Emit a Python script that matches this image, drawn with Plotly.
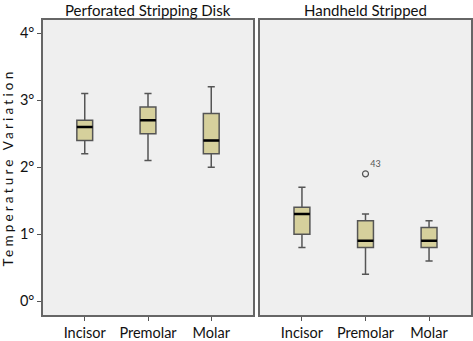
import plotly.graph_objects as go

categories = ["Incisor", "Premolar", "Molar"]
panels = ["Perforated Stripping Disk", "Handheld Stripped"]

# Box statistics
disk_min = [2.2, 2.1, 2.0]
disk_q1 = [2.4, 2.5, 2.2]
disk_med = [2.6, 2.7, 2.4]
disk_q3 = [2.7, 2.9, 2.8]
disk_max = [3.1, 3.1, 3.2]

hand_min = [0.8, 0.4, 0.6]
hand_q1 = [1.0, 0.8, 0.8]
hand_med = [1.3, 0.9, 0.9]
hand_q3 = [1.4, 1.2, 1.1]
hand_max = [1.7, 1.3, 1.2]

outlier_cat = ["Premolar"]
outlier_val = [1.9]
outlier_lbl = ["43"]

y_ticks = [0, 1, 2, 3, 4]
y_ticktext = [f"{v}°" for v in y_ticks]

FONT = "Lato"
BOX_FILL = "#D6D09C"
BOX_LINE = "#555555"
BOX_W = 0.25

xs = list(range(len(categories)))

fig = go.Figure()

def add_panel(mins, q1, med, q3, mx, xa, ya):
    fig.add_trace(go.Box(
        x=xs, q1=q1, median=med, q3=q3, lowerfence=mins, upperfence=mx,
        boxpoints=False, width=BOX_W, whiskerwidth=0.45,
        fillcolor=BOX_FILL, line=dict(color=BOX_LINE, width=1.5),
        xaxis=xa, yaxis=ya, showlegend=False, hoverinfo="skip"))
    mx_, my_ = [], []
    for i, m in zip(xs, med):
        mx_ += [i - BOX_W / 2, i + BOX_W / 2, None]
        my_ += [m, m, None]
    fig.add_trace(go.Scatter(x=mx_, y=my_, mode="lines",
                             line=dict(color="black", width=2.5),
                             xaxis=xa, yaxis=ya, showlegend=False, hoverinfo="skip"))

add_panel(disk_min, disk_q1, disk_med, disk_q3, disk_max, "x", "y")
add_panel(hand_min, hand_q1, hand_med, hand_q3, hand_max, "x2", "y2")

fig.add_trace(go.Scatter(
    x=[categories.index(c) for c in outlier_cat], y=outlier_val,
    mode="markers+text", text=outlier_lbl, textposition="top right",
    textfont=dict(family=FONT, size=9, color="#555555"),
    marker=dict(symbol="circle-open", size=6, color="#555555", line=dict(width=1.2)),
    xaxis="x2", yaxis="y2", showlegend=False, hoverinfo="skip"))

W, H = 473, 341
yd = [1 - 317 / H, 1 - 20 / H]
ax_common = dict(showline=True, mirror=True, linecolor="#666666", linewidth=1.5,
                 showgrid=False, zeroline=False, ticks="outside", ticklen=4,
                 tickcolor="#555555", tickwidth=1.2,
                 tickfont=dict(family=FONT, size=14.5, color="#111111"))

xax = dict(ax_common, range=[-0.66, 2.66], tickvals=xs, ticktext=categories)
fig.update_layout(
    width=W, height=H, margin=dict(l=0, r=0, t=0, b=0),
    paper_bgcolor="white", plot_bgcolor="#EFEFEF",
    xaxis=dict(xax, domain=[43 / W, 253 / W], anchor="y"),
    xaxis2=dict(xax, domain=[260 / W, 471 / W], anchor="y2"),
    yaxis=dict(ax_common, domain=yd, range=[-0.21, 4.2], tickvals=y_ticks,
               ticktext=y_ticktext, anchor="x",
               title=dict(text="Temperature Variation", standoff=8,
                          font=dict(family=FONT, size=13.5, color="#111111"))),
    yaxis2=dict(ax_common, domain=yd, range=[-0.21, 4.2], tickvals=y_ticks,
                showticklabels=False, ticks="", anchor="x2"),
)

for name, cx in zip(panels, [148 / W, 365.5 / W]):
    fig.add_annotation(text=name, x=cx, y=1 - 10 / H, xref="paper", yref="paper",
                       showarrow=False, xanchor="center", yanchor="middle",
                       font=dict(family=FONT, size=15, color="#111111"))

post = """
document.body.style.margin = '0';
document.body.style.padding = '0';
var t = document.querySelector('.ytitle');
if (t) { t.style.letterSpacing = '3.2px'; }
"""
fig.write_html("out.html", post_script=post, config={"displayModeBar": False})
